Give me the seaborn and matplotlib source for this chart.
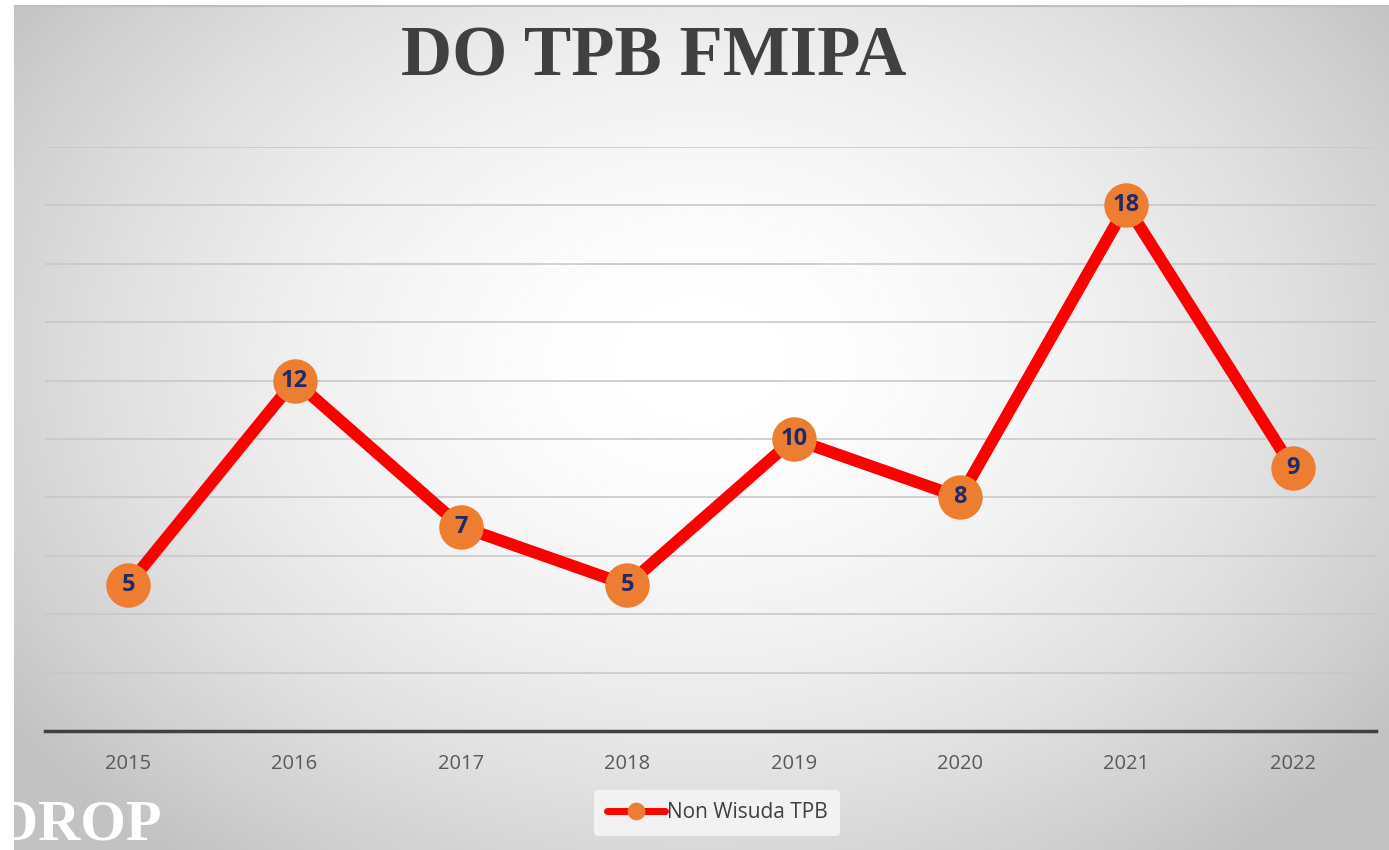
import numpy as np
import pandas as pd
import matplotlib
matplotlib.use("Agg")
import matplotlib.pyplot as plt
import seaborn as sns

years = ["2015", "2016", "2017", "2018", "2019", "2020", "2021", "2022"]
non_wisuda = [5, 12, 7, 5, 10, 8, 18, 9]
series_name = "Non Wisuda TPB"
title = "DO TPB FMIPA"

df = pd.DataFrame({"Tahun": years, "Jumlah": non_wisuda})

sns.set_style("white")
plt.rcParams['font.family'] = ['Open Sans', 'DejaVu Sans']

W, H = 1389, 850
fig = plt.figure(figsize=(W / 100, H / 100), dpi=100)
fig.patch.set_facecolor("white")

# radial gradient background panel
bg = fig.add_axes([14 / W, 0, 1 - 14 / W, 845 / H])
gx, gy = np.meshgrid(np.linspace(0, 1, 400), np.linspace(0, 1, 300))
r = np.sqrt(((gx - 0.5) / 0.62) ** 2 + ((gy - 0.42) / 0.75) ** 2)
shade = 1.0 - 0.24 * np.clip(r, 0, 1) ** 1.8
bg.imshow(shade, cmap="gray", vmin=0, vmax=1, aspect="auto", extent=(0, 1, 0, 1), origin="upper")
bg.axhline(1, color="#bfbfbf", lw=3)
bg.set_axis_off()

ax = fig.add_axes([45 / W, (H - 731) / H, (1376 - 45) / W, (731 - 147) / H])
ax.set_facecolor("none")
sns.lineplot(data=df, x="Tahun", y="Jumlah", ax=ax, color="#ff0000", lw=8.6,
             marker="o", markersize=32, markerfacecolor="#ed7d31", markeredgewidth=0,
             label=series_name, zorder=3)

for i, v in enumerate(non_wisuda):
    ax.text(i, v, str(v), ha="center", va="center", fontsize=17, fontweight="bold",
            color="#1f2a66", zorder=4)

ax.set_xlim(-0.5, len(years) - 0.5)
ax.set_ylim(0, 20)
ax.set_yticks(np.arange(2, 21, 2))
ax.yaxis.grid(True, color="#c8c8c8", lw=1.2)
ax.set_axisbelow(True)
ax.tick_params(axis="y", left=False, labelleft=False)
ax.tick_params(axis="x", bottom=False, labelsize=14.5, labelcolor="#595959", pad=13)
for s in ["top", "left", "right"]:
    ax.spines[s].set_visible(False)
ax.spines["bottom"].set_color("#404040")
ax.spines["bottom"].set_linewidth(2.5)
ax.set_xlabel("")
ax.set_ylabel("")

leg = ax.legend(loc="center", bbox_to_anchor=(0.505, -0.14), frameon=True, fontsize=15,
                markerscale=0.4, handlelength=2.8, handletextpad=0.1, borderpad=0.6)
leg.get_frame().set_facecolor("#f2f2f2")
leg.get_frame().set_edgecolor("none")
leg.get_frame().set_alpha(1)
for t in leg.get_texts():
    t.set_color("#404040")
for h in leg.legend_handles:
    h.set_linewidth(5)

fig.text(654 / W, 1 - 58 / H, title, ha="center", va="center", fontsize=51,
         fontweight="bold", color="#404040", family="Liberation Serif")
fig.text(-4 / W, 1 - 826 / H, "DROP", ha="left", va="center", fontsize=42,
         fontweight="bold", color="white", family="Liberation Serif")

fig.savefig("out.png", dpi=100)
